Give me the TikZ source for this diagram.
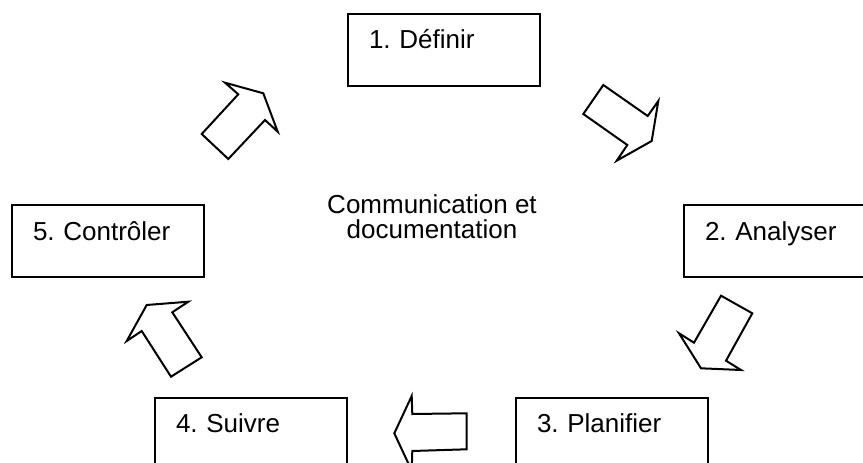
\documentclass[tikz,border=0pt]{standalone}
\usepackage{fontspec}
\setmainfont{Liberation Sans}
\frenchspacing
\tikzset{
  stagebox/.style={draw, line width=1.5pt, rectangle, anchor=north west,
    inner xsep=15.75pt, inner ysep=0pt, text width=112.5pt, align=left,
    text height=26.25pt, text depth=27.75pt,
    font=\fontsize{19.5pt}{18.75pt}\selectfont},
  bigarrow/.style={draw, line width=1.5pt, line join=miter}
}
\begin{document}
\begin{tikzpicture}[x=0.75pt, y=-0.75pt]
\clip (0,0) rectangle (863,463);
\fill[white] (0,0) rectangle (863,463);
% stages
\node[stagebox] (define) at (347,12.7) {1. Définir};
\node[stagebox] (analyse) at (683,204) {2. Analyser};
\node[stagebox] (plan) at (515,396.7) {3. Planifier};
\node[stagebox] (follow) at (154,396.7) {4. Suivre};
\node[stagebox] (check) at (11,204) {5. Contrôler};
% centre
\node[align=center, font=\fontsize{19.5pt}{18.75pt}\selectfont] (comm) at (432,216.7) {Communication et\\documentation};
% arrows
\draw[bigarrow] (225,82.7) -- (238.3,94.3) -- (201.7,134) -- (228.3,159) -- (265,120) -- (277.7,131.7) -- (263.3,93.3) -- cycle;
\draw[bigarrow] (603.3,85) -- (583.3,114) -- (627.3,145) -- (616.7,160.7) -- (651.7,141) -- (658.3,101) -- (647.7,116) -- cycle;
\draw[bigarrow] (721,295.7) -- (752.3,313.3) -- (726,360.7) -- (741,370) -- (701,368.3) -- (679,333.3) -- (694,342.7) -- cycle;
\draw[bigarrow] (466.7,413.3) -- (466.7,449.3) -- (412.3,451) -- (411.7,470.6) -- (394.3,433.3) -- (411.7,396) -- (412.3,414) -- cycle;
\draw[bigarrow] (146.7,305) -- (188.3,301.7) -- (172.3,312.3) -- (201.7,357.3) -- (171,376.7) -- (141.7,331) -- (126.7,341) -- cycle;
\end{tikzpicture}
\end{document}
